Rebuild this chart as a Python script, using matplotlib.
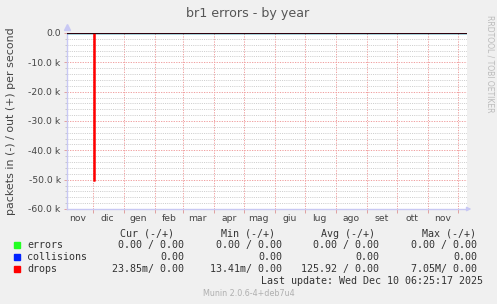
import matplotlib
matplotlib.use("Agg")
import matplotlib.pyplot as plt
import matplotlib.dates as mdates
import numpy as np
import pandas as pd

# --- data --------------------------------------------------------------
t_start = pd.Timestamp("2024-11-05 06:25")
t_end = pd.Timestamp("2025-12-10 06:25")

dates = pd.to_datetime(["2024-11-05 06:25", "2024-12-02 00:00",
                        "2024-12-03 00:00", "2025-12-10 06:25"])
errors_in = [0, 0, 0, 0]
collisions = [0, 0, 0, 0]
drops_in = [0, -50300, 0, 0]

yticks = [0, -10000, -20000, -30000, -40000, -50000, -60000]
ytick_labels = ["0.0", "-10.0 k", "-20.0 k", "-30.0 k", "-40.0 k", "-50.0 k", "-60.0 k"]
month_labels = ["nov", "dic", "gen", "feb", "mar", "apr", "mag",
                "giu", "lug", "ago", "set", "ott", "nov"]

legend_names = ["errors", "collisions", "drops"]
legend_colors = ["#22ff22", "#0022ff", "#ff0000"]
col_headers = ["Cur (-/+)", "Min (-/+)", "Avg (-/+)", "Max (-/+)"]
col_values = [
    ["0.00 / 0.00", "0.00 / 0.00", "0.00 / 0.00", "0.00 / 0.00"],
    ["0.00", "0.00", "0.00", "0.00"],
    ["23.85m/ 0.00", "13.41m/ 0.00", "125.92 / 0.00", "7.05M/ 0.00"],
]

W, H = 497, 304
BG = "#f0f0f0"


def px(x, y):
    return x / W, 1 - y / H


fig = plt.figure(figsize=(W / 100, H / 100), dpi=100, facecolor=BG)
ax = fig.add_axes([67 / W, (H - 209) / H, 400 / W, 176 / H])
ax.set_facecolor("white")

ax.plot(dates, errors_in, color=legend_colors[0], lw=1, drawstyle="steps-post", zorder=3)
ax.plot(dates, collisions, color=legend_colors[1], lw=1, drawstyle="steps-post", zorder=3)
ax.plot(dates, drops_in, color=legend_colors[2], lw=1.1, drawstyle="steps-post", zorder=4)
ax.axhline(0, color="black", lw=1.1, zorder=5)

ax.set_xlim(t_start, t_end)
ax.set_ylim(-60000, 0)

# y axis
ax.set_yticks(yticks)
ax.set_yticklabels(ytick_labels)
ax.set_yticks(np.arange(-60000, 1, 2000), minor=True)
ax.tick_params(axis="y", which="major", length=2.5, width=0.7, color="#e0a0a0",
               labelsize=6.7, labelcolor="#444444", pad=2)
ax.tick_params(axis="y", which="minor", length=1.5, width=0.6, color="#c0c0c0")

# x axis: grid at month starts, labels mid-month
ax.xaxis.set_major_locator(mdates.MonthLocator(bymonthday=1))
ax.xaxis.set_major_formatter(plt.NullFormatter())
ax.xaxis.set_minor_locator(mdates.MonthLocator(bymonthday=16))
ax.xaxis.set_minor_formatter(plt.FixedFormatter(month_labels))
ax.tick_params(axis="x", which="major", length=3, width=0.7, color="#e0a0a0")
ax.tick_params(axis="x", which="minor", length=0, labelsize=6.7,
               labelcolor="#444444", pad=3.5)

ax.grid(True, which="major", color="#f0a0a0", lw=0.7, linestyle=(0, (1.3, 1.3)))
ax.yaxis.grid(True, which="minor", color="#c8c8c8", lw=0.6, linestyle=(0, (1.3, 1.3)))
ax.set_axisbelow(True)

for s in ["top", "right"]:
    ax.spines[s].set_visible(False)
for s in ["left", "bottom"]:
    ax.spines[s].set_color("#c8c8f4")
    ax.spines[s].set_linewidth(1)

# axis arrows
ax.plot([0], [1.035], marker="^", ms=4, color="#c8c8f4", transform=ax.transAxes, clip_on=False)
ax.annotate("", xy=(1.018, 0), xytext=(0.995, 0), xycoords="axes fraction",
            arrowprops=dict(arrowstyle="-|>", color="#c8c8f4", lw=1, mutation_scale=6))

ax.set_ylabel("packets in (-) / out (+) per second", fontsize=7.9, color="#444444")
ax.yaxis.set_label_coords(-51 / 400, 0.5)

fig.text(*px(248, 13), "br1 errors - by year", fontsize=9.1, color="#555555",
         ha="center", va="center")
fig.text(*px(490, 15), "RRDTOOL / TOBI OETIKER", fontsize=5.5, color="#bbbbbb",
         rotation=270, ha="center", va="top")

# legend table
mono = dict(family="DejaVu Sans Mono", fontsize=7.2, color="#333333", va="center")
header_right = [174, 275, 375, 476]
value_right = [184, 282, 379, 477]
for hdr, xr in zip(col_headers, header_right):
    fig.text(*px(xr, 234), hdr, ha="right", **mono)
row_y = [245, 257, 269]
for name, color, vals, y in zip(legend_names, legend_colors, col_values, row_y):
    fig.patches.append(plt.Rectangle(px(14, y + 3), 6 / W, 6 / H, color=color,
                                     transform=fig.transFigure, figure=fig))
    fig.text(*px(27, y), name, ha="left", **mono)
    for v, xr in zip(vals, value_right):
        fig.text(*px(xr, y), v, ha="right", **mono)

fig.text(*px(483, 281), "Last update: Wed Dec 10 06:25:17 2025", ha="right", **mono)
fig.text(*px(249, 293), "Munin 2.0.6-4+deb7u4", fontsize=5.8, color="#b0b0b0",
         ha="center", va="center")

fig.savefig("out.png", dpi=100, facecolor=BG)
